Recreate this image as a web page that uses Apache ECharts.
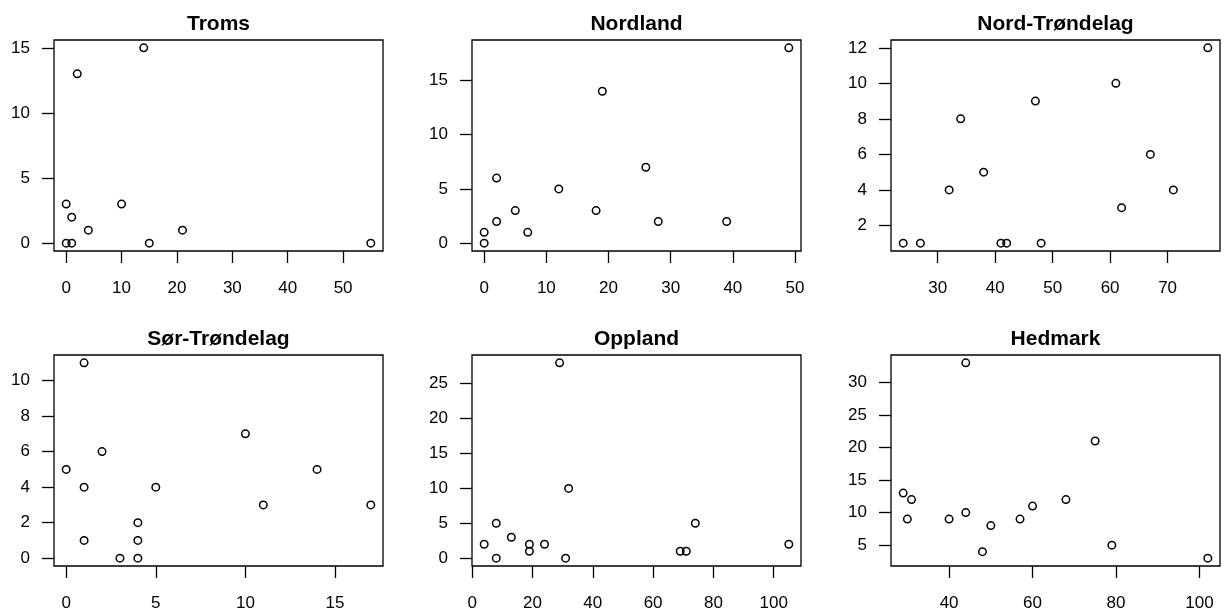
<!DOCTYPE html>
<html>
<head>
<meta charset="utf-8">
<title>Scatter by county</title>
<script src="https://cdn.jsdelivr.net/npm/echarts@6/dist/echarts.min.js"></script>
<style>
    html, body { margin: 0; padding: 0; background: #ffffff; }
    #chart { width: 1227px; height: 612px; }
</style>
</head>
<body>
<div id="chart"></div>
<script>
const tromsX = [14, 2, 0, 10, 1, 4, 21, 0, 1, 15, 55];
const tromsY = [15, 13, 3, 3, 2, 1, 1, 0, 0, 0, 0];
const tromsXTicks = [0, 10, 20, 30, 40, 50];
const tromsYTicks = [0, 5, 10, 15];

const nordlandX = [49, 19, 26, 2, 12, 5, 18, 2, 28, 39, 7, 0, 0];
const nordlandY = [18, 14, 7, 6, 5, 3, 3, 2, 2, 2, 1, 1, 0];
const nordlandXTicks = [0, 10, 20, 30, 40, 50];
const nordlandYTicks = [0, 5, 10, 15];

const nordTrondelagX = [77, 61, 47, 34, 67, 38, 32, 71, 62, 24, 27, 41, 42, 48];
const nordTrondelagY = [12, 10, 9, 8, 6, 5, 4, 4, 3, 1, 1, 1, 1, 1];
const nordTrondelagXTicks = [30, 40, 50, 60, 70];
const nordTrondelagYTicks = [2, 4, 6, 8, 10, 12];

const sorTrondelagX = [1, 10, 2, 0, 14, 1, 5, 11, 17, 4, 4, 1, 3, 4];
const sorTrondelagY = [11, 7, 6, 5, 5, 4, 4, 3, 3, 2, 1, 1, 0, 0];
const sorTrondelagXTicks = [0, 5, 10, 15];
const sorTrondelagYTicks = [0, 2, 4, 6, 8, 10];

const opplandX = [29, 32, 8, 74, 13, 4, 19, 24, 105, 19, 69, 71, 8, 31];
const opplandY = [28, 10, 5, 5, 3, 2, 2, 2, 2, 1, 1, 1, 0, 0];
const opplandXTicks = [0, 20, 40, 60, 80, 100];
const opplandYTicks = [0, 5, 10, 15, 20, 25];

const hedmarkX = [44, 75, 29, 31, 68, 60, 44, 30, 40, 57, 50, 79, 48, 102];
const hedmarkY = [33, 21, 13, 12, 12, 11, 10, 9, 9, 9, 8, 5, 4, 3];
const hedmarkXTicks = [40, 60, 80, 100];
const hedmarkYTicks = [5, 10, 15, 20, 25, 30];

const panels = [
    { name: "Troms", x: tromsX, y: tromsY, xTicks: tromsXTicks, yTicks: tromsYTicks },
    { name: "Nordland", x: nordlandX, y: nordlandY, xTicks: nordlandXTicks, yTicks: nordlandYTicks },
    { name: "Nord-Trøndelag", x: nordTrondelagX, y: nordTrondelagY, xTicks: nordTrondelagXTicks, yTicks: nordTrondelagYTicks },
    { name: "Sør-Trøndelag", x: sorTrondelagX, y: sorTrondelagY, xTicks: sorTrondelagXTicks, yTicks: sorTrondelagYTicks },
    { name: "Oppland", x: opplandX, y: opplandY, xTicks: opplandXTicks, yTicks: opplandYTicks },
    { name: "Hedmark", x: hedmarkX, y: hedmarkY, xTicks: hedmarkXTicks, yTicks: hedmarkYTicks }
];

// plot boxes, pixels
const COLUMN_LEFT = [54, 472, 891];
const COLUMN_WIDTH = 329;
const ROW_TOP = [40, 355];
const ROW_HEIGHT = 211;

const FONT = "Liberation Sans, Arial, sans-serif";

// R style range: data range stretched 4% each side
function paddedRange(values) {
    const lo = Math.min(...values);
    const hi = Math.max(...values);
    const pad = (hi - lo) * 0.04;
    return [lo - pad, hi + pad];
}

function axisStyle(ticks, range, gridIndex, isX) {
    return {
        gridIndex: gridIndex,
        type: "value",
        min: range[0],
        max: range[1],
        splitLine: { show: false },
        axisLine: { show: false, onZero: false },
        axisTick: {
            show: true,
            length: 12,
            customValues: ticks,
            lineStyle: { color: "#000000", width: 1.3 }
        },
        axisLabel: {
            customValues: ticks,
            margin: isX ? 29 : 24,
            fontSize: 17,
            fontFamily: FONT,
            color: "#000000"
        }
    };
}

const chart = echarts.init(document.getElementById("chart"));

const titles = [];
const grids = [];
const xAxes = [];
const yAxes = [];
const series = [];

panels.forEach((panel, i) => {
    const col = i % 3;
    const row = Math.floor(i / 3);
    const left = COLUMN_LEFT[col];
    const top = ROW_TOP[row];

    titles.push({
        text: panel.name,
        left: left + COLUMN_WIDTH / 2,
        top: top - 26,
        textAlign: "center",
        padding: 0,
        textStyle: {
            fontFamily: FONT,
            fontSize: 21,
            fontWeight: "bold",
            color: "#000000"
        }
    });

    grids.push({
        left: left,
        top: top,
        width: COLUMN_WIDTH,
        height: ROW_HEIGHT,
        show: true,
        borderColor: "#000000",
        borderWidth: 1.3,
        backgroundColor: "transparent"
    });

    xAxes.push(axisStyle(panel.xTicks, paddedRange(panel.x), i, true));
    yAxes.push(axisStyle(panel.yTicks, paddedRange(panel.y), i, false));

    series.push({
        type: "scatter",
        xAxisIndex: i,
        yAxisIndex: i,
        symbol: "circle",
        symbolSize: 7.5,
        itemStyle: {
            color: "transparent",
            borderColor: "#000000",
            borderWidth: 1.5,
            opacity: 1
        },
        data: panel.x.map((x, k) => [x, panel.y[k]])
    });
});

chart.setOption({
    animation: false,
    backgroundColor: "#ffffff",
    title: titles,
    grid: grids,
    xAxis: xAxes,
    yAxis: yAxes,
    series: series
});
</script>
</body>
</html>
